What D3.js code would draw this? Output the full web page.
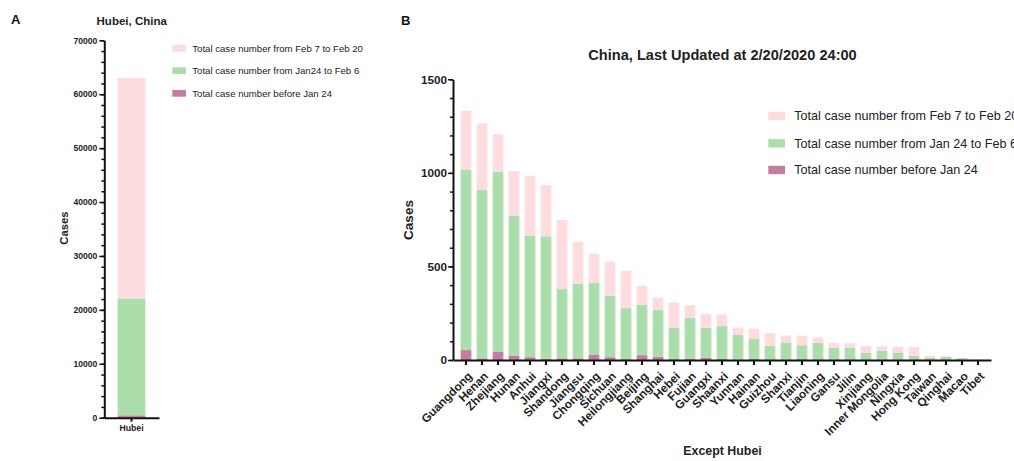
<!DOCTYPE html>
<html>
<head>
<meta charset="utf-8">
<script src="https://cdn.jsdelivr.net/npm/d3@7"></script>
<style>
  body { margin: 0; background: #fff; }
  svg { display: block; font-family: 'Liberation Sans', Arial, sans-serif; }
  .axis path, .axis line { stroke: #111; }
  .axis text { fill: #222; font-weight: bold; font-family: 'Liberation Sans', Arial, sans-serif; }
  .minor path { display: none; }
</style>
</head>
<body>
<div id="chart"></div>
<script>
// Panel A - Hubei
const hubeiCategory = ['Hubei']
const hubeiBefore = [444]
const hubeiJan24ToFeb6 = [21668]
const hubeiFeb7ToFeb20 = [40888]
const hubeiTicks = [0, 10000, 20000, 30000, 40000, 50000, 60000, 70000]

// Panel B - other provinces
const provinces = ['Guangdong', 'Henan', 'Zhejiang', 'Hunan', 'Anhui', 'Jiangxi', 'Shandong',
  'Jiangsu', 'Chongqing', 'Sichuan', 'Heilongjiang', 'Beijing', 'Shanghai', 'Hebei', 'Fujian',
  'Guangxi', 'Shaanxi', 'Yunnan', 'Hainan', 'Guizhou', 'Shanxi', 'Tianjin', 'Liaoning', 'Gansu',
  'Jilin', 'Xinjiang', 'Inner Mongolia', 'Ningxia', 'Hong Kong', 'Taiwan', 'Qinghai', 'Macao', 'Tibet']
const before = [53, 9, 43, 24, 15, 7, 9, 9, 27, 15, 4, 26, 18, 4, 5, 12, 5, 2, 5, 3, 1, 4, 3, 2, 3, 2, 1, 1, 2, 1, 0, 2, 0]
const jan24ToFeb6 = [965, 901, 963, 748, 650, 654, 370, 399, 386, 329, 273, 269, 251, 168, 219, 160, 177, 132, 107, 73, 93, 75, 89, 63, 61, 36, 49, 39, 21, 12, 17, 8, 1]
const feb7ToFeb20 = [314, 355, 199, 238, 320, 273, 369, 223, 154, 182, 199, 101, 65, 135, 69, 74, 61, 40, 56, 68, 37, 51, 29, 26, 26, 37, 24, 30, 46, 10, 1, 0, 0]
const provinceTicks = [0, 500, 1000, 1500]

const keys = ['before', 'mid', 'late']
const colors = { before: '#c47ca1', mid: '#acdeab', late: '#fddcdf' }
const legendA = ['Total case number from Feb 7 to Feb 20', 'Total case number from Jan24 to Feb 6', 'Total case number before Jan 24']
const legendB = ['Total case number from Feb 7 to Feb 20', 'Total case number from Jan 24 to Feb 6', 'Total case number before Jan 24']

const svg = d3
  .select('#chart')
  .append('svg')
  .attr('width', 1014)
  .attr('height', 461)

const stack = d3.stack().keys(keys)

function styleAxis(g, width) {
  g.select('.domain').attr('stroke-width', 2)
  g.selectAll('.tick line').attr('stroke-width', width)
}

// ---------- Panel A ----------
const dataA = hubeiCategory.map((c, i) => ({
  name: c, before: hubeiBefore[i], mid: hubeiJan24ToFeb6[i], late: hubeiFeb7ToFeb20[i]
}))

const xA = d3.scaleBand().domain(hubeiCategory).range([104, 159]).padding(0.33)
const yA = d3.scaleLinear().domain([0, 70000]).range([417.7, 40.3])

const gA = svg.append('g')

gA.selectAll('.layer')
  .data(stack(dataA))
  .enter()
  .append('g')
  .attr('fill', d => colors[d.key])
  .selectAll('rect')
  .data(d => d)
  .enter()
  .append('rect')
  .attr('x', d => xA(d.data.name))
  .attr('width', xA.bandwidth())
  .attr('y', d => yA(d[1]))
  .attr('height', d => yA(d[0]) - yA(d[1]))

gA.append('g')
  .attr('class', 'axis minor')
  .attr('transform', 'translate(104.3,0)')
  .call(d3.axisLeft(yA).tickValues(d3.range(0, 70001, 2000)).tickSize(3).tickFormat(''))
  .call(g => g.selectAll('line').attr('stroke-width', 1.5))

gA.append('g')
  .attr('class', 'axis')
  .attr('transform', 'translate(104.3,0)')
  .call(d3.axisLeft(yA).tickValues(hubeiTicks).tickFormat(d3.format('d')).tickSize(5).tickSizeOuter(0).tickPadding(2))
  .call(g => styleAxis(g, 1.5))
  .call(g => g.selectAll('text').attr('font-size', 8.6))

gA.append('g')
  .attr('class', 'axis')
  .attr('transform', 'translate(0,417.7)')
  .call(d3.axisBottom(xA).tickSize(4).tickSizeOuter(0).tickPadding(3))
  .call(g => styleAxis(g, 2))
  .call(g => g.selectAll('text').attr('font-size', 8.7))

gA.append('text')
  .attr('x', 131.7)
  .attr('y', 25)
  .attr('text-anchor', 'middle')
  .attr('font-weight', 'bold')
  .attr('font-size', 11.5)
  .attr('fill', '#222')
  .text('Hubei, China')

gA.append('text')
  .attr('transform', 'translate(68,228) rotate(-90)')
  .attr('text-anchor', 'middle')
  .attr('font-weight', 'bold')
  .attr('font-size', 11.3)
  .attr('fill', '#222')
  .text('Cases')

gA.append('text')
  .attr('x', 11)
  .attr('y', 24)
  .attr('font-weight', 'bold')
  .attr('font-size', 13)
  .attr('fill', '#111')
  .text('A')

const legA = gA.selectAll('.leg')
  .data(['late', 'mid', 'before'])
  .enter()
  .append('g')
  .attr('transform', (d, i) => 'translate(172.3,' + [48.3, 70.7, 93.3][i] + ')')
legA.append('rect')
  .attr('y', -3.4)
  .attr('width', 13.7)
  .attr('height', 6.8)
  .attr('fill', d => colors[d])
legA.append('text')
  .attr('x', 20)
  .attr('dy', '0.35em')
  .attr('font-size', 9.6)
  .attr('fill', '#222')
  .text((d, i) => legendA[i])

// ---------- Panel B ----------
const dataB = provinces.map((p, i) => ({
  name: p, before: before[i], mid: jan24ToFeb6[i], late: feb7ToFeb20[i]
}))

const xB = d3.scaleBand().domain(provinces).range([453, 991]).paddingInner(0.33).paddingOuter(0.478)
const yB = d3.scaleLinear().domain([0, 1500]).range([360, 79.3])

const gB = svg.append('g')

gB.selectAll('.layer')
  .data(stack(dataB))
  .enter()
  .append('g')
  .attr('fill', d => colors[d.key])
  .selectAll('rect')
  .data(d => d)
  .enter()
  .append('rect')
  .attr('x', d => xB(d.data.name))
  .attr('width', xB.bandwidth())
  .attr('y', d => yB(d[1]))
  .attr('height', d => yB(d[0]) - yB(d[1]))

gB.append('g')
  .attr('class', 'axis minor')
  .attr('transform', 'translate(453,0)')
  .call(d3.axisLeft(yB).tickValues(d3.range(0, 1501, 100)).tickSize(3).tickFormat(''))
  .call(g => g.selectAll('line').attr('stroke-width', 1.5))

gB.append('g')
  .attr('class', 'axis')
  .attr('transform', 'translate(453,0)')
  .call(d3.axisLeft(yB).tickValues(provinceTicks).tickFormat(d3.format('d')).tickSize(5).tickSizeOuter(0).tickPadding(1))
  .call(g => styleAxis(g, 1.5))
  .call(g => g.selectAll('text').attr('font-size', 11.7))

gB.append('g')
  .attr('class', 'axis')
  .attr('transform', 'translate(0,360)')
  .call(d3.axisBottom(xB).tickSize(5).tickSizeOuter(0))
  .call(g => styleAxis(g, 2))
  .call(g => g.selectAll('text')
    .attr('font-size', 11.8)
    .attr('text-anchor', 'end')
    .attr('x', 0)
    .attr('y', 0)
    .attr('dy', '0.35em')
    .attr('transform', 'translate(4,14) rotate(-45)'))

gB.append('text')
  .attr('x', 722.5)
  .attr('y', 60)
  .attr('text-anchor', 'middle')
  .attr('font-weight', 'bold')
  .attr('font-size', 14.6)
  .attr('fill', '#222')
  .text('China, Last Updated at 2/20/2020 24:00')

gB.append('text')
  .attr('transform', 'translate(413,220) rotate(-90)')
  .attr('text-anchor', 'middle')
  .attr('font-weight', 'bold')
  .attr('font-size', 13.6)
  .attr('fill', '#222')
  .text('Cases')

gB.append('text')
  .attr('x', 722.5)
  .attr('y', 455)
  .attr('text-anchor', 'middle')
  .attr('font-weight', 'bold')
  .attr('font-size', 12.4)
  .attr('fill', '#222')
  .text('Except Hubei')

gB.append('text')
  .attr('x', 401)
  .attr('y', 25)
  .attr('font-weight', 'bold')
  .attr('font-size', 13)
  .attr('fill', '#111')
  .text('B')

const legB = gB.selectAll('.leg')
  .data(['late', 'mid', 'before'])
  .enter()
  .append('g')
  .attr('transform', (d, i) => 'translate(768.3,' + [116, 143.3, 170][i] + ')')
legB.append('rect')
  .attr('y', -4.2)
  .attr('width', 16.7)
  .attr('height', 8.4)
  .attr('fill', d => colors[d])
legB.append('text')
  .attr('x', 26)
  .attr('dy', '0.35em')
  .attr('font-size', 12.6)
  .attr('fill', '#222')
  .text((d, i) => legendB[i])
</script>
</body>
</html>
